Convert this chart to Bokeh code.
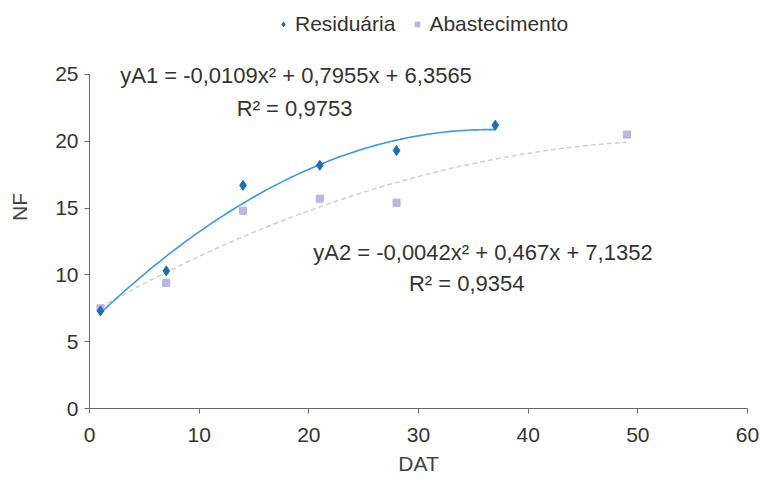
import numpy as np
from bokeh.plotting import figure
from bokeh.models import Label, Legend, LegendItem, Range1d, FixedTicker
from bokeh.embed import file_html
from bokeh.resources import INLINE

# Data
dat_res = [1, 7, 14, 21, 28, 37]
nf_res = [7.3, 10.3, 16.7, 18.2, 19.3, 21.2]
dat_aba = [1, 7, 14, 21, 28, 49]
nf_aba = [7.5, 9.4, 14.8, 15.7, 15.4, 20.5]
# Printed trendline coefficients (a, b, c) for y = a x^2 + b x + c
coef_res = [-0.0109, 0.7955, 6.3565]
coef_aba = [-0.0042, 0.467, 7.1352]
eq_res = ["yA1 = -0,0109x² + 0,7955x + 6,3565", "R² = 0,9753"]
eq_aba = ["yA2 = -0,0042x² + 0,467x + 7,1352", "R² = 0,9354"]
x_ticks = [0, 10, 20, 30, 40, 50, 60]
y_ticks = [0, 5, 10, 15, 20, 25]

FONT = "Liberation Sans"
FS = "21px"

p = figure(width=760, height=486, output_backend="svg", toolbar_location=None,
           x_range=Range1d(0, 60), y_range=Range1d(0, 30.16),
           min_border_left=89, min_border_right=13, min_border_top=5, min_border_bottom=78)
p.outline_line_color = None
p.grid.visible = False
p.background_fill_color = "white"

for ax in (p.xaxis[0], p.yaxis[0]):
    ax.axis_line_color = "#6a6a6a"
    ax.major_tick_line_color = "#6a6a6a"
    ax.minor_tick_line_color = None
    ax.major_tick_out = 5
    ax.major_tick_in = 0
    ax.major_label_text_font = FONT
    ax.major_label_text_font_size = FS
    ax.major_label_text_color = "#333333"
    ax.axis_label_text_font = FONT
    ax.axis_label_text_font_size = FS
    ax.axis_label_text_color = "#444444"
    ax.axis_label_text_font_style = "normal"
p.yaxis.bounds = (0, 25)
p.xaxis.ticker = FixedTicker(ticks=x_ticks)
p.yaxis.ticker = FixedTicker(ticks=y_ticks)
p.xaxis.axis_label = "DAT"
p.yaxis.axis_label = "NF"
p.xaxis.major_label_standoff = 14
p.yaxis.major_label_standoff = 6
p.xaxis.axis_label_standoff = 7
p.yaxis.axis_label_standoff = 21

# Trend lines from printed coefficients
xr = np.linspace(min(dat_res), max(dat_res), 100)
yr = np.polyval(coef_res, xr)
xa = np.linspace(min(dat_aba), max(dat_aba), 100)
ya = np.polyval(coef_aba, xa)
p.line(xa, ya, line_color="#cfcfd4", line_width=1.5, line_dash="5 3")
p.line(xr, yr, line_color="#3c9ade", line_width=1.6)

r_aba = p.scatter(dat_aba, nf_aba, marker="square", size=7, fill_color="#b9aee2",
                  line_color="#b9aee2", fill_alpha=0.9)
r_res = p.scatter(dat_res, nf_res, marker="diamond", size=10, fill_color="#1f6db8",
                  line_color="#1f6db8")

legend = Legend(items=[LegendItem(label="Residuária", renderers=[r_res]),
                       LegendItem(label="Abastecimento", renderers=[r_aba])],
                orientation="horizontal", location=(188, 372),
                label_text_font=FONT, label_text_font_size=FS,
                label_text_color="#333333", border_line_color=None,
                background_fill_alpha=0, glyph_width=12, label_standoff=6,
                spacing=16, padding=2, margin=0)
p.add_layout(legend, "center")

def lab(x, y, text, align):
    p.add_layout(Label(x=x, y=y, text=text, text_font=FONT, text_font_size="22px",
                       text_color="#333333", text_align=align, text_baseline="middle"))

lab(2.8, 24.93, eq_res[0], "left")
lab(18.7, 22.46, eq_res[1], "center")
lab(20.4, 11.68, eq_aba[0], "left")
lab(34.4, 9.36, eq_aba[1], "center")

open("out.html", "w").write(file_html(p, INLINE))
